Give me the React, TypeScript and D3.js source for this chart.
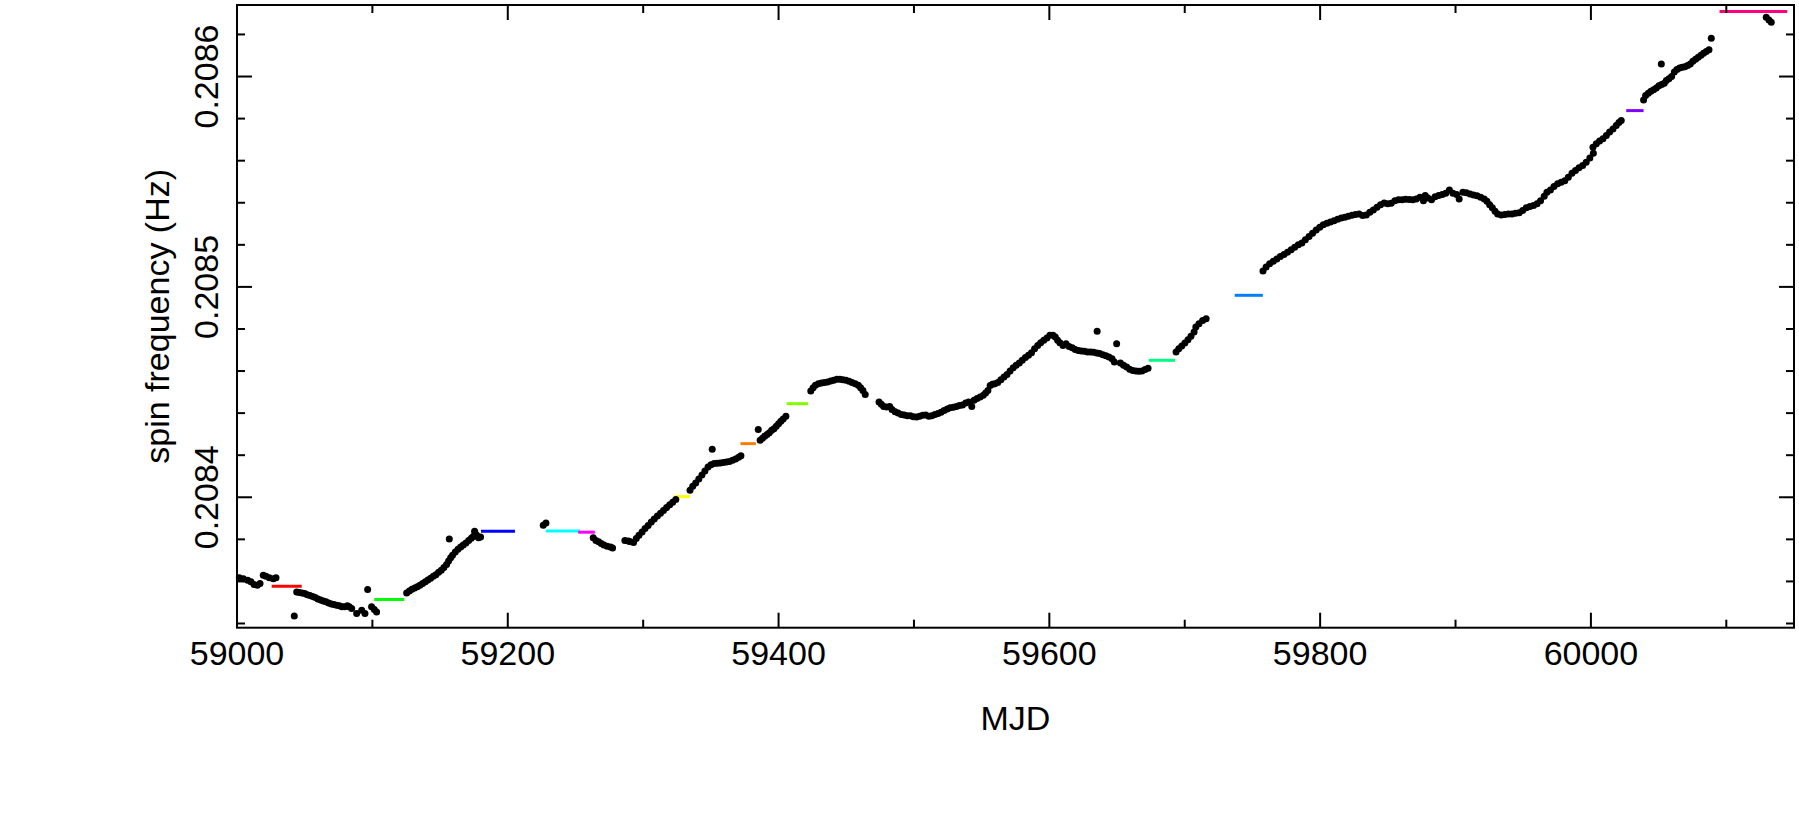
import React from "react";
import * as d3 from "d3";

// observed spin frequency, block 1: [MJD, frequency (Hz)]
const block1: [number, number][] = [
  [59001.7, 0.2083617], [59004.7, 0.2083613], [59007.9, 0.2083605], [59010.3, 0.2083598],
  [59012.6, 0.2083585], [59015.0, 0.2083582], [59017.0, 0.208359], [59019.4, 0.2083629],
  [59021.4, 0.2083624], [59023.9, 0.2083618], [59026.8, 0.2083613], [59028.8, 0.2083618],
  [59042.3, 0.2083436],
  [59044.1, 0.208355], [59046.0, 0.2083547], [59048.0, 0.2083545], [59050.0, 0.2083542],
  [59051.9, 0.2083537], [59053.9, 0.2083533], [59055.9, 0.2083528], [59057.8, 0.2083523],
  [59059.8, 0.2083517], [59061.8, 0.2083512], [59063.7, 0.2083507], [59065.7, 0.2083503],
  [59067.7, 0.2083498], [59069.7, 0.2083493], [59071.6, 0.208349], [59073.6, 0.2083487],
  [59075.6, 0.2083484], [59077.5, 0.208348], [59079.5, 0.2083479], [59081.5, 0.2083484],
  [59082.9, 0.2083479], [59084.7, 0.2083471], [59088.4, 0.2083447], [59092.1, 0.2083463],
  [59094.5, 0.2083447], [59096.5, 0.2083561], [59099.4, 0.2083479], [59101.4, 0.2083466],
  [59103.1, 0.2083455],
];

// block 2
const block2: [number, number][] = [
  [59125.3, 0.2083545], [59127.3, 0.2083555], [59129.2, 0.2083563], [59131.2, 0.2083569],
  [59133.2, 0.2083575], [59135.1, 0.2083582], [59137.1, 0.208359], [59139.1, 0.2083599],
  [59141.0, 0.2083607], [59143.0, 0.2083615], [59145.0, 0.2083624], [59146.9, 0.2083632],
  [59148.9, 0.2083643], [59150.9, 0.2083653], [59152.8, 0.2083666], [59154.8, 0.2083681],
  [59156.3, 0.2083697], [59156.8, 0.2083802], [59157.8, 0.2083713], [59159.2, 0.2083724],
  [59161.2, 0.208374], [59163.2, 0.2083753], [59165.2, 0.2083764], [59167.1, 0.2083773],
  [59169.1, 0.2083783], [59171.1, 0.2083794], [59173.0, 0.2083805], [59174.5, 0.2083814],
  [59175.5, 0.2083838], [59176.0, 0.2083827], [59177.0, 0.2083819], [59178.4, 0.2083808],
  [59179.9, 0.2083811],
  [59226.2, 0.2083867], [59228.2, 0.2083878],
];

// block 3
const block3: [number, number][] = [
  [59263.1, 0.2083808], [59265.1, 0.2083795], [59267.1, 0.2083789], [59269.0, 0.208378],
  [59271.0, 0.2083773], [59273.4, 0.2083767], [59275.9, 0.2083764], [59277.4, 0.2083759],
  [59286.5, 0.2083795], [59289.0, 0.2083792], [59290.1, 0.208379], [59292.9, 0.2083785],
  [59294.9, 0.2083804], [59296.9, 0.208382], [59299.2, 0.2083835], [59301.4, 0.2083851],
  [59303.7, 0.2083866], [59306.0, 0.2083883], [59308.2, 0.2083897], [59310.5, 0.2083911],
  [59312.8, 0.2083924], [59315.0, 0.2083937], [59317.3, 0.2083951], [59319.6, 0.2083964],
  [59321.8, 0.2083976], [59324.1, 0.2083989],
  [59334.6, 0.2084033], [59336.6, 0.2084052], [59338.8, 0.2084068], [59341.1, 0.2084087],
  [59343.4, 0.2084106], [59345.6, 0.2084125], [59347.9, 0.2084144], [59350.1, 0.2084155],
  [59351.0, 0.2084228], [59352.4, 0.208416], [59354.7, 0.2084162], [59356.9, 0.2084163],
  [59359.2, 0.2084165], [59361.5, 0.2084168], [59363.7, 0.208417], [59366.0, 0.2084176],
  [59368.3, 0.2084182], [59370.5, 0.208419], [59372.2, 0.2084197],
  [59385.0, 0.2084322], [59386.4, 0.2084271], [59388.1, 0.208428], [59389.8, 0.208429],
  [59391.5, 0.2084298], [59393.2, 0.2084307], [59394.9, 0.2084318], [59396.6, 0.2084326],
  [59398.3, 0.2084337], [59400.0, 0.208435], [59401.7, 0.2084361], [59403.4, 0.2084372],
  [59405.4, 0.2084385],
  [59423.8, 0.2084505], [59425.5, 0.2084521], [59427.2, 0.2084532], [59429.4, 0.208454],
  [59431.7, 0.2084543], [59433.9, 0.2084545], [59436.2, 0.2084548], [59438.5, 0.2084553],
  [59440.7, 0.2084556], [59443.0, 0.2084561], [59445.3, 0.2084561], [59447.5, 0.2084559],
  [59449.8, 0.2084556], [59452.1, 0.2084551], [59454.3, 0.2084546], [59456.6, 0.208454],
  [59458.9, 0.2084532], [59460.6, 0.2084521], [59462.3, 0.2084508], [59464.0, 0.2084488],
];

// block 4
const block4: [number, number][] = [
  [59474.2, 0.2084453], [59475.9, 0.2084442], [59477.6, 0.2084432], [59479.8, 0.2084429],
  [59482.1, 0.2084432], [59483.8, 0.2084417], [59486.1, 0.2084406], [59488.3, 0.2084401],
  [59490.6, 0.2084394], [59492.8, 0.2084391], [59495.1, 0.2084388], [59497.4, 0.2084387],
  [59499.6, 0.2084383], [59501.9, 0.2084382], [59504.2, 0.2084385], [59506.4, 0.208439],
  [59508.7, 0.2084391], [59511.0, 0.2084385], [59513.2, 0.2084388], [59515.5, 0.2084394],
  [59517.8, 0.2084398], [59520.0, 0.2084404], [59522.3, 0.2084413], [59524.6, 0.208442],
  [59526.8, 0.2084425], [59529.1, 0.2084428], [59531.4, 0.2084432], [59533.6, 0.2084436],
  [59535.9, 0.2084439], [59538.2, 0.2084448], [59540.4, 0.2084453], [59542.7, 0.2084432],
  [59544.4, 0.2084461], [59546.6, 0.2084469], [59548.9, 0.2084477], [59551.2, 0.2084485],
  [59552.9, 0.2084496], [59554.6, 0.2084508], [59556.3, 0.2084531], [59558.0, 0.2084537],
  [59559.7, 0.208454], [59561.9, 0.2084546], [59564.2, 0.2084559], [59566.5, 0.2084572],
  [59568.7, 0.2084584], [59571.0, 0.20846], [59573.3, 0.2084616], [59575.5, 0.2084627],
  [59577.8, 0.2084638], [59580.0, 0.2084651], [59582.3, 0.2084664], [59584.6, 0.2084675],
  [59586.8, 0.2084687], [59589.1, 0.2084706], [59591.4, 0.2084722], [59593.6, 0.2084735],
  [59595.9, 0.2084746], [59598.2, 0.2084757], [59600.4, 0.208477], [59602.7, 0.208477],
  [59604.4, 0.2084762], [59606.1, 0.2084746], [59607.8, 0.2084735], [59610.1, 0.2084722],
  [59612.3, 0.208473], [59614.6, 0.2084717], [59616.9, 0.2084711], [59619.1, 0.2084703],
  [59621.4, 0.2084698], [59623.6, 0.2084695], [59625.9, 0.2084694], [59628.2, 0.2084691],
  [59630.4, 0.2084691], [59632.7, 0.2084689], [59635.0, 0.2084686], [59635.3, 0.2084789],
  [59637.2, 0.2084683], [59639.5, 0.2084678], [59641.8, 0.2084673], [59644.0, 0.2084667],
  [59646.3, 0.2084659], [59648.0, 0.2084643], [59649.7, 0.208473], [59652.5, 0.2084638],
  [59654.8, 0.2084627], [59657.1, 0.2084619], [59659.3, 0.2084608], [59661.6, 0.2084603],
  [59663.9, 0.20846], [59666.1, 0.2084599], [59668.4, 0.20846], [59670.7, 0.2084607],
  [59672.9, 0.2084613],
  [59693.6, 0.2084691], [59695.6, 0.2084706], [59697.8, 0.2084719], [59700.1, 0.2084733],
  [59702.4, 0.2084749], [59704.6, 0.2084765], [59706.9, 0.2084786], [59708.2, 0.2084809],
  [59710.5, 0.2084825], [59713.2, 0.208484], [59715.8, 0.2084848],
];

// block 5
const block5: [number, number][] = [
  [59757.8, 0.2085075], [59760.1, 0.2085094], [59762.7, 0.208511], [59765.4, 0.2085122],
  [59768.0, 0.2085133], [59770.6, 0.2085144], [59773.3, 0.2085154], [59775.9, 0.2085165],
  [59778.6, 0.2085176], [59781.2, 0.2085189], [59783.9, 0.20852], [59786.5, 0.2085209],
  [59789.1, 0.2085224], [59791.8, 0.2085239], [59794.4, 0.2085255], [59797.1, 0.2085271],
  [59799.7, 0.2085284], [59802.3, 0.2085296], [59805.0, 0.2085303], [59807.6, 0.2085308],
  [59810.3, 0.2085315], [59812.9, 0.2085322], [59815.6, 0.2085327], [59818.2, 0.2085331],
  [59820.8, 0.2085336], [59823.5, 0.2085341], [59826.1, 0.2085344], [59828.8, 0.2085347],
  [59831.4, 0.2085339], [59834.1, 0.2085342], [59836.7, 0.2085355], [59839.3, 0.2085366],
  [59842.0, 0.2085379], [59844.6, 0.208539], [59847.3, 0.2085399], [59849.9, 0.2085395],
  [59852.5, 0.2085398], [59855.2, 0.208541], [59857.8, 0.2085414], [59860.5, 0.2085414],
  [59863.1, 0.2085417], [59865.8, 0.2085415], [59868.4, 0.2085414], [59871.0, 0.2085418],
  [59873.7, 0.2085426], [59876.3, 0.208541], [59877.6, 0.2085434], [59879.6, 0.2085423],
  [59882.3, 0.2085414], [59884.9, 0.2085429], [59887.5, 0.2085434], [59890.2, 0.2085439],
  [59892.8, 0.2085445], [59895.5, 0.2085461], [59898.1, 0.2085445], [59900.8, 0.2085439],
  [59902.7, 0.2085418], [59905.4, 0.208545], [59908.0, 0.2085447], [59910.7, 0.2085442],
  [59913.3, 0.2085437], [59915.9, 0.2085433], [59918.6, 0.2085426], [59921.2, 0.2085418],
  [59923.2, 0.2085407], [59925.2, 0.2085391], [59927.2, 0.2085376], [59929.2, 0.208536],
  [59931.1, 0.2085347], [59933.8, 0.2085342], [59936.4, 0.2085344], [59939.1, 0.2085347],
  [59941.7, 0.2085347], [59944.3, 0.208535], [59947.0, 0.2085353], [59949.6, 0.2085363],
  [59952.3, 0.2085376], [59954.9, 0.2085382], [59957.6, 0.2085387], [59960.2, 0.2085395],
  [59962.8, 0.208541], [59965.5, 0.2085431], [59967.5, 0.208545], [59970.1, 0.2085461],
  [59972.7, 0.2085477], [59975.4, 0.208549], [59978.0, 0.2085498], [59980.7, 0.2085505],
  [59983.3, 0.2085521], [59986.0, 0.208554], [59988.6, 0.2085553], [59991.2, 0.2085566],
  [59993.9, 0.2085577], [59996.5, 0.2085593], [59999.2, 0.2085613], [60001.5, 0.2085664],
  [60001.8, 0.2085635], [60004.0, 0.208568], [60006.4, 0.2085693], [60008.9, 0.2085704],
  [60011.4, 0.208572], [60013.8, 0.2085736], [60016.3, 0.2085751], [60018.7, 0.2085767],
  [60020.7, 0.2085781], [60022.4, 0.2085791],
];

// block 6
const block6: [number, number][] = [
  [60038.9, 0.2085889], [60040.4, 0.208591], [60042.4, 0.2085921], [60044.3, 0.208593],
  [60046.3, 0.2085937], [60048.3, 0.2085946], [60050.2, 0.2085956], [60052.0, 0.208606],
  [60052.2, 0.2085962], [60054.2, 0.2085968], [60055.7, 0.2085981], [60057.6, 0.2085989],
  [60059.6, 0.2086], [60061.6, 0.2086021], [60063.5, 0.2086033], [60065.5, 0.208604],
  [60067.5, 0.2086044], [60069.4, 0.2086047], [60071.4, 0.2086052], [60073.4, 0.208606],
  [60075.3, 0.2086073], [60077.3, 0.2086082], [60079.3, 0.2086092], [60081.3, 0.2086101],
  [60083.2, 0.2086111], [60085.2, 0.2086119], [60087.2, 0.2086127], [60088.9, 0.2086182],
  [60129.5, 0.2086282], [60131.5, 0.2086269], [60133.2, 0.2086258],
];

// horizontal model segments: [start MJD, end MJD, frequency (Hz)]
const segments: [number, number, number][] = [
  [59025.6, 59047.8, 0.2083577],
  [59101.4, 59123.5, 0.2083514],
  [59180.2, 59205.3, 0.2083838],
  [59228.0, 59253.3, 0.208384],
  [59252.0, 59264.3, 0.2083834],
  [59322.7, 59334.6, 0.2084003],
  [59371.9, 59383.3, 0.2084255],
  [59405.9, 59421.8, 0.2084445],
  [59673.4, 59692.8, 0.2084651],
  [59736.9, 59757.7, 0.208496],
  [60026.1, 60038.9, 0.2085838],
  [60095.0, 60145.0, 0.2086309],
];
const segmentColors = [
  "#ff0000", "#00ff00", "#0000ff", "#00ffff", "#ff00ff", "#ffff00",
  "#ff8000", "#80ff00", "#00ff80", "#0080ff", "#8000ff", "#ff0080",
];

const xMajorTicks = [59000, 59200, 59400, 59600, 59800, 60000];
const xMinorTicks = [59100, 59300, 59500, 59700, 59900, 60100];
const yMajorTicks = [0.2084, 0.2085, 0.2086];
const yMinorTicks = [
  0.20834, 0.20836, 0.20838, 0.20842, 0.20844, 0.20846, 0.20848,
  0.20852, 0.20854, 0.20856, 0.20858, 0.20862,
];

const X_DOMAIN: [number, number] = [59000, 60150];
const Y_DOMAIN: [number, number] = [0.208338, 0.208634];

const spinPoints = [...block1, ...block2, ...block3, ...block4, ...block5, ...block6];

export default function App() {
  const W = 1799;
  const H = 830;
  const left = 237, right = 1794, top = 5, bottom = 627.7;
  const x = d3.scaleLinear().domain(X_DOMAIN).range([left, right]);
  const y = d3.scaleLinear().domain(Y_DOMAIN).range([bottom, top]);
  const font = "'Liberation Sans', Arial, Helvetica, sans-serif";
  const fs = 34;
  const major = 15, minor = 8;
  const yFmt = d3.format(".4f");

  return (
    <svg
      width={W}
      height={H}
      style={{ position: "absolute", left: 0, top: 0, background: "#fff" }}
      fontFamily={font}
    >
      <rect x={0} y={0} width={W} height={H} fill="#fff" />
      {segments.map((s, i) => (
        <line
          key={"s" + i}
          x1={x(s[0])}
          x2={x(s[1])}
          y1={y(s[2])}
          y2={y(s[2])}
          stroke={segmentColors[i]}
          strokeWidth={3}
        />
      ))}
      {spinPoints.map((p, i) => (
        <circle key={"p" + i} cx={x(p[0])} cy={y(p[1])} r={3.5} fill="#000" />
      ))}
      <g stroke="#000" strokeWidth={2}>
        {xMajorTicks.map((t) => (
          <g key={"xM" + t}>
            <line x1={x(t)} x2={x(t)} y1={bottom} y2={bottom - major} />
            <line x1={x(t)} x2={x(t)} y1={top} y2={top + major} />
          </g>
        ))}
        {xMinorTicks.map((t) => (
          <g key={"xm" + t}>
            <line x1={x(t)} x2={x(t)} y1={bottom} y2={bottom - minor} />
            <line x1={x(t)} x2={x(t)} y1={top} y2={top + minor} />
          </g>
        ))}
        {yMajorTicks.map((t) => (
          <g key={"yM" + t}>
            <line x1={left} x2={left + major} y1={y(t)} y2={y(t)} />
            <line x1={right} x2={right - major} y1={y(t)} y2={y(t)} />
          </g>
        ))}
        {yMinorTicks.map((t) => (
          <g key={"ym" + t}>
            <line x1={left} x2={left + minor} y1={y(t)} y2={y(t)} />
            <line x1={right} x2={right - minor} y1={y(t)} y2={y(t)} />
          </g>
        ))}
        <rect x={left} y={top} width={right - left} height={bottom - top} fill="none" />
      </g>
      {xMajorTicks.map((t) => (
        <text key={"xl" + t} x={x(t)} y={665} fontSize={fs} textAnchor="middle" fill="#000">
          {t}
        </text>
      ))}
      {yMajorTicks.map((t) => (
        <text
          key={"yl" + t}
          transform={`translate(218,${y(t)}) rotate(-90)`}
          fontSize={fs}
          textAnchor="middle"
          fill="#000"
        >
          {yFmt(t)}
        </text>
      ))}
      <text x={(left + right) / 2} y={730} fontSize={fs} textAnchor="middle" fill="#000">
        MJD
      </text>
      <text
        transform={`translate(168.5,${(top + bottom) / 2}) rotate(-90)`}
        fontSize={fs}
        textAnchor="middle"
        fill="#000"
      >
        spin frequency (Hz)
      </text>
    </svg>
  );
}
